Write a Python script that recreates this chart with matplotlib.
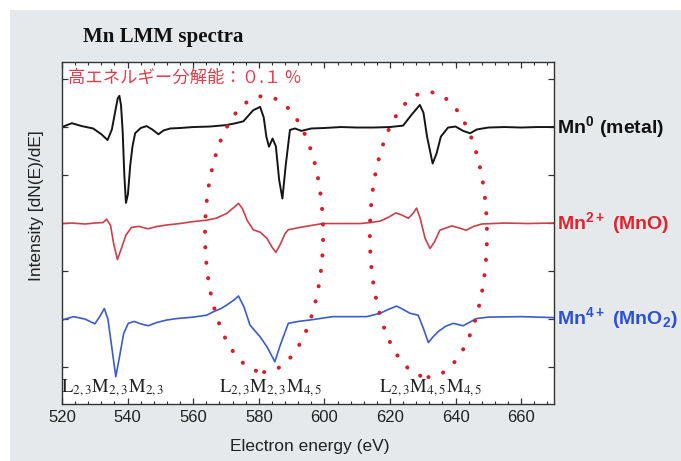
"""
Mn LMM Auger spectra (dN(E)/dE) for Mn metal, MnO and MnO2, offset vertically.
Values read off the reference picture; the y axis is in offset units (1 per tick).
"""
import matplotlib
matplotlib.use("Agg")
import matplotlib.pyplot as plt
from matplotlib.patches import Ellipse, Rectangle
from matplotlib.ticker import MultipleLocator

plt.rcParams.update({
    "font.family": ["Liberation Sans", "DejaVu Sans"],
    "mathtext.fontset": "custom",
    "mathtext.rm": "Liberation Sans:bold",
    "mathtext.it": "Liberation Sans:bold:italic",
    "mathtext.bf": "Liberation Sans:bold",
})

# ---------- data ----------
metal_e = [520, 523, 526, 529.5, 532, 533.9, 535.2, 536.3, 537.0, 537.5, 538.0, 538.5,
           539.0, 539.5, 540.1, 540.8, 541.5, 542.3, 544, 545.8, 547.5, 549.4, 551,
           553, 556, 560, 565, 570, 573, 575.3, 578.3, 580.4, 581.5, 582.3, 583.1,
           584.2, 585.2, 586.2, 587.2, 588.2, 589.5, 591, 593, 596, 600, 605, 610,
           615, 620, 624, 626.5, 629.1, 630.2, 631.3, 633.0, 634.2, 635.5, 637.7,
           640, 642.3, 644.4, 646.5, 650, 655, 660, 665, 670]
metal_i = [5.00, 5.08, 5.02, 4.97, 4.85, 4.73, 4.95, 5.35, 5.6, 5.65, 5.45, 4.9,
           4.0, 3.42, 3.6, 4.2, 4.6, 4.87, 4.98, 5.02, 4.95, 4.85, 4.93,
           4.97, 4.98, 5.00, 5.01, 5.04, 5.08, 5.12, 5.35, 5.42, 5.2, 4.8, 4.59,
           4.76, 4.6, 3.9, 3.51, 4.2, 4.94, 4.97, 4.92, 4.97, 4.98, 5.0, 4.99,
           4.99, 5.0, 5.03, 5.25, 5.46, 5.3, 4.8, 4.24, 4.45, 4.8, 4.99,
           5.01, 4.92, 4.87, 4.95, 4.99, 5.0, 4.99, 5.0, 5.0]

mno_e = [520, 523, 527, 530, 532.5, 533.6, 534.8, 535.8, 536.9, 538, 539.5, 541.2,
         543.5, 546.2, 549, 552, 556, 560, 564.1, 567, 570.2, 572.5, 573.8, 575,
         576.5, 578.3, 580.4, 582.5, 584, 585.2, 586.5, 588, 589, 592.6, 596, 599.6,
         605, 610.9, 614, 617, 619.5, 621.8, 623.5, 625.6, 627, 628.1, 629.2, 630.7,
         632.2, 633.5, 635.2, 638.8, 641, 643.2, 645.5, 648, 655, 662, 670]
mno_i = [2.99, 3.0, 2.98, 3.0, 3.01, 3.08, 2.95, 2.55, 2.24, 2.45, 2.75, 2.91,
         2.93, 2.88, 2.93, 2.96, 2.99, 3.03, 3.06, 3.1, 3.2, 3.33, 3.41, 3.3,
         3.05, 2.86, 2.81, 2.68, 2.5, 2.39, 2.55, 2.78, 2.86, 2.91, 2.95, 2.99,
         2.99, 2.99, 3.01, 3.04, 3.12, 3.21, 3.17, 3.10, 3.2, 3.31, 3.1, 2.68,
         2.47, 2.6, 2.85, 2.94, 2.9, 2.85, 2.93, 2.98, 3.0, 2.99, 3.0]

mno2_e = [520, 523.5, 527, 530, 531.5, 532.9, 534, 535.2, 536.4, 537.5, 538.8, 540.2,
          542, 544, 546.3, 549, 552, 555, 560, 564.1, 566.1, 568.5, 570.2, 572.5,
          573.8, 575.5, 577.3, 580.4, 582.5, 584.9, 586.5, 589, 592, 595.6, 602.6,
          608, 612.9, 617, 619.5, 622, 624, 626.1, 628.6, 630.2, 631.7, 633, 634.7,
          637, 639.3, 642.3, 646.4, 650, 660, 670]
mno2_i = [0.98, 1.05, 1.0, 0.90, 1.05, 1.22, 1.0, 0.4, -0.20, 0.2, 0.7, 0.91,
          0.95, 0.9, 0.86, 0.93, 0.98, 1.01, 1.04, 1.08, 1.15, 1.22, 1.29, 1.40,
          1.48, 1.25, 0.875, 0.63, 0.42, 0.11, 0.45, 0.91, 0.95, 0.98, 1.05,
          1.05, 1.05, 1.12, 1.2, 1.27, 1.2, 1.12, 1.08, 0.8, 0.51, 0.62, 0.74,
          0.85, 0.91, 0.86, 1.01, 1.04, 1.05, 1.03]

# dotted ellipses round the two regions: centre E, centre y, width (eV), height
ell_cx = [581.6, 631.7]
ell_cy = [2.77, 2.76]
ell_w = [36.0, 35.7]
ell_h = [5.75, 5.94]

# transition labels under the spectra
trans_x = [535.5, 583.5, 632.5]
trans_lab = [r"$\mathrm{L_{2,3}M_{2,3}M_{2,3}}$",
             r"$\mathrm{L_{2,3}M_{2,3}M_{4,5}}$",
             r"$\mathrm{L_{2,3}M_{4,5}M_{4,5}}$"]

series_lab = [r"$\mathrm{Mn^{0}\ (metal)}$",
              r"$\mathrm{Mn^{2+}\ (MnO)}$",
              r"$\mathrm{Mn^{4+}\ (MnO_{2})}$"]
series_y = [5.0, 3.0, 1.02]

BLK = "#151515"; RED = "#c9404a"; BLU = "#3b5cc9"
LAB_COL = ["#111111", "#e3222d", "#2a50d6"]
DOT = "#d41f2b"

W, H = 681, 461
fig = plt.figure(figsize=(W / 100, H / 100), dpi=100)
fig.patch.set_facecolor("#e5e9eb")
# white strips on the top and left edge of the slide
fig.patches.append(Rectangle((0, 1 - 10 / H), 1, 10 / H, transform=fig.transFigure,
                             facecolor="white", edgecolor="none", zorder=-1))
fig.patches.append(Rectangle((0, 0), 10 / W, 1, transform=fig.transFigure,
                             facecolor="white", edgecolor="none", zorder=-1))

ax = fig.add_axes([62 / W, 1 - 404 / H, 492 / W, 342 / H])
ax.set_facecolor("white")

ax.plot(metal_e, metal_i, color=BLK, lw=1.4)
ax.plot(mno_e, mno_i, color=RED, lw=1.2)
ax.plot(mno2_e, mno2_i, color=BLU, lw=1.2)

for cx, cy, w, h in zip(ell_cx, ell_cy, ell_w, ell_h):
    e = Ellipse((cx, cy), w, h, fill=False, edgecolor=DOT, lw=2.9,
                linestyle=(0, (0.05, 3.8)), zorder=3)
    e.set_capstyle("round")
    ax.add_patch(e)

for x, t in zip(trans_x, trans_lab):
    ax.text(x, -0.45, t, ha="center", va="center", fontsize=13.5,
            color="#222222", math_fontfamily="stix")

for t, y, c in zip(series_lab, series_y, LAB_COL):
    ax.text(1.006, (y + 0.77) / 7.125, t, transform=ax.transAxes, ha="left",
            va="center", fontsize=14, color=c, clip_on=False)

ax.set_xlim(520, 670)
ax.set_ylim(-0.77, 6.355)
ax.xaxis.set_major_locator(MultipleLocator(20))
ax.xaxis.set_minor_locator(MultipleLocator(4))
ax.set_yticks(range(0, 7))
ax.set_yticklabels([])
ax.tick_params(which="both", direction="in", top=True, right=True, colors="#333333")
ax.tick_params(which="major", length=4, width=0.9, labelsize=12, pad=4,
               labelcolor="#222222")
ax.tick_params(which="minor", length=2, width=0.8)
for s in ax.spines.values():
    s.set_linewidth(1.0); s.set_color("#333333")

fig.text(83 / W, 1 - 37 / H, "Mn LMM spectra", ha="left", va="center",
         family="Liberation Serif", weight="bold", fontsize=15, color="#111111")
fig.text(68 / W, 1 - 78 / H, "高エネルギー分解能：０.１ %", ha="left", va="center",
         family=["Noto Sans CJK JP", "DejaVu Sans"], fontsize=12.5, color="#de3f4d")
fig.text(37 / W, 1 - 206 / H, "Intensity [dN(E)/dE]", rotation=90, ha="center",
         va="center", fontsize=12.5, color="#222222")
fig.text(310 / W, 1 - 446 / H, "Electron energy (eV)", ha="center", va="center",
         fontsize=12.5, color="#222222")

fig.savefig("out.png", dpi=100, facecolor=fig.get_facecolor())
